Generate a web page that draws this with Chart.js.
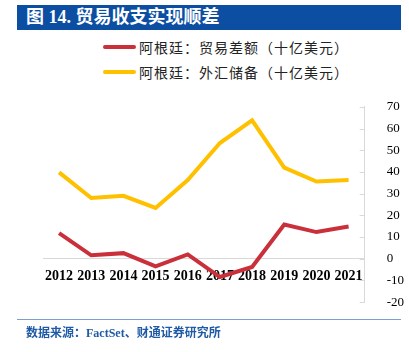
<!DOCTYPE html>
<html>
<head>
<meta charset="utf-8">
<script src="https://cdn.jsdelivr.net/npm/chart.js@4"></script>
<style>
  body { margin: 0; width: 409px; height: 352px; background: #fff; position: relative; overflow: hidden; }
  #title { position: absolute; left: 17px; top: 5px; width: 384px; height: 25px; background: #0b4ea2;
           color: #fff; font: bold 18px "Liberation Serif", "Noto Sans CJK SC"; line-height: 25px; padding-left: 9px; box-sizing: border-box; }
  #legend { position: absolute; left: 103px; top: 34px; font: 14px "Noto Sans CJK SC"; color: #222; letter-spacing: 1px; }
  .item { height: 25px; display: flex; align-items: center; }
  .swatch { width: 33px; height: 4px; border-radius: 2px; margin-right: 3px; }
  #myChart { position: absolute; left: 0; top: 85px; }
  #rule { position: absolute; left: 17px; top: 319px; width: 384px; height: 1px; background: #7d9fcb; }
  #source { position: absolute; left: 26px; top: 323px; font: bold 12px "Liberation Serif", "Noto Sans CJK SC"; color: #1f5aa6; }
</style>
</head>
<body>
<div id="title">图 14. 贸易收支实现顺差</div>
<div id="legend"></div>
<canvas id="myChart" width="430" height="239"></canvas>
<div id="rule"></div>
<div id="source">数据来源：FactSet、财通证券研究所</div>
<script>
// Chart data
const years = ['2012', '2013', '2014', '2015', '2016', '2017', '2018', '2019', '2020', '2021'];
const tradeBalance = [11.8, 1.6, 2.6, -3.5, 2.0, -8.4, -3.8, 15.8, 12.3, 14.9];
const fxReserves = [39.8, 28.0, 29.0, 23.4, 36.3, 53.3, 63.8, 42.0, 35.6, 36.3];
const seriesNames = ['阿根廷：贸易差额（十亿美元）', '阿根廷：外汇储备（十亿美元）'];
const seriesColors = ['#c9303a', '#ffc000'];
const yTicks = [-20, -10, 0, 10, 20, 30, 40, 50, 60, 70];

// HTML legend
const legend = document.getElementById('legend');
seriesNames.forEach((name, i) => {
    const row = document.createElement('div');
    row.className = 'item';
    row.innerHTML = `<span class="swatch" style="background:${seriesColors[i]}"></span>${name}`;
    legend.appendChild(row);
});

// Small inward tick marks on the right axis
const innerTicks = {
    id: 'innerTicks',
    afterDraw(chart) {
        const y = chart.scales.y;
        const ctx = chart.ctx;
        ctx.save();
        ctx.strokeStyle = '#d9d9d9';
        ctx.lineWidth = 1;
        yTicks.forEach(v => {
            const py = Math.round(y.getPixelForValue(v)) + 0.5;
            ctx.beginPath();
            ctx.moveTo(y.left - 5, py);
            ctx.lineTo(y.left, py);
            ctx.stroke();
        });
        ctx.restore();
    }
};

const ctx = document.getElementById('myChart').getContext('2d');
new Chart(ctx, {
    type: 'line',
    data: {
        labels: years,
        datasets: [
            { label: seriesNames[0], data: tradeBalance, borderColor: seriesColors[0], borderWidth: 4, pointRadius: 0, tension: 0 },
            { label: seriesNames[1], data: fxReserves, borderColor: seriesColors[1], borderWidth: 4, pointRadius: 0, tension: 0 }
        ]
    },
    options: {
        responsive: false,
        animation: false,
        layout: { padding: { left: 43, right: 12, top: 21, bottom: 9 } },
        plugins: { legend: { display: false }, tooltip: { enabled: false } },
        scales: {
            x: {
                position: { y: 0 },
                offset: true,
                grid: { display: false },
                border: { display: true, color: '#d9d9d9', width: 1 },
                ticks: { color: '#000', padding: 1, maxRotation: 0, autoSkip: false,
                         font: { family: 'Liberation Serif', size: 14, weight: 'bold' } }
            },
            y: {
                position: 'right',
                min: -20,
                max: 70,
                afterBuildTicks: scale => { scale.ticks = yTicks.map(v => ({ value: v })); },
                grid: { display: false },
                border: { display: true, color: '#d9d9d9', width: 1 },
                ticks: { color: '#000', padding: 14,
                         font: { family: 'Liberation Serif', size: 13 } }
            }
        }
    },
    plugins: [innerTicks]
});
</script>
</body>
</html>
